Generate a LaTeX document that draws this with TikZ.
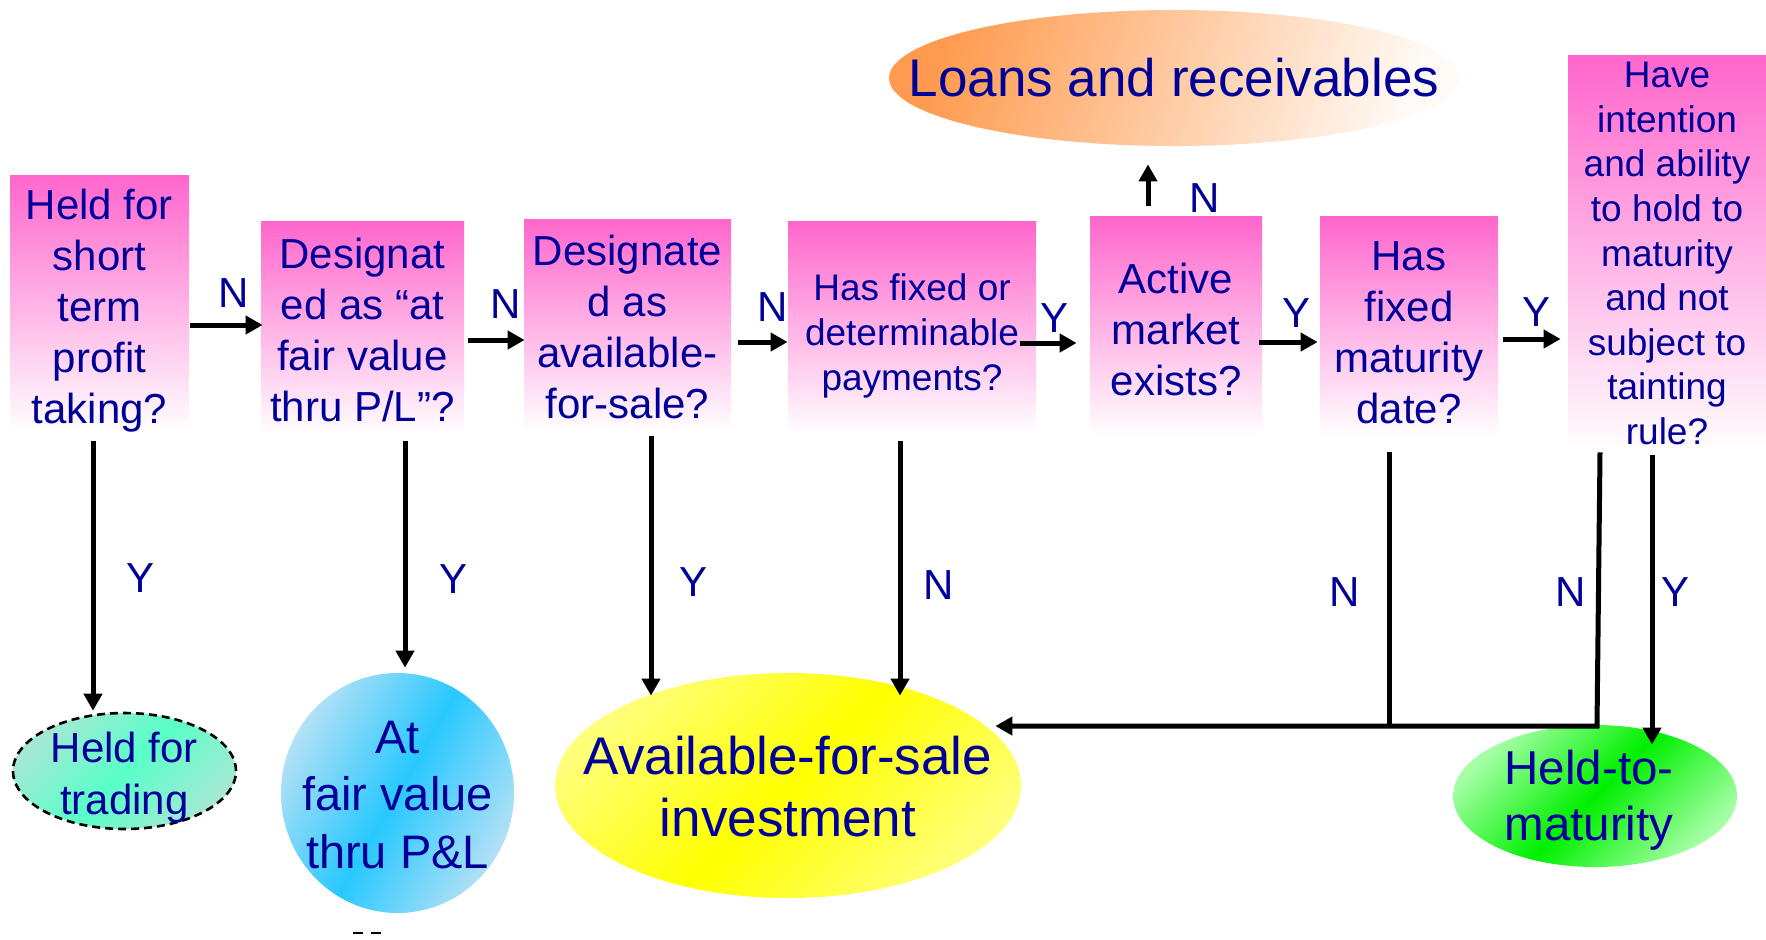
\documentclass[tikz,border=0pt]{standalone}
\usepackage{fontspec}
\setmainfont{Liberation Sans}
\usetikzlibrary{shapes.geometric, arrows.meta, calc}

\definecolor{navy}{RGB}{0,0,153}
\definecolor{pinktop}{RGB}{255,102,204}
\definecolor{loansor}{RGB}{255,155,80}
\definecolor{loanswh}{RGB}{255,250,245}
\definecolor{htfmid}{RGB}{90,255,200}
\definecolor{htfedge}{RGB}{165,232,212}
\definecolor{fvmid}{RGB}{40,200,255}
\definecolor{fvedge}{RGB}{180,225,245}
\definecolor{afsmid}{RGB}{255,255,0}
\definecolor{afsedge}{RGB}{255,255,120}
\definecolor{htmmid}{RGB}{0,240,0}
\definecolor{htmedge}{RGB}{165,255,165}

\tikzset{
  qbox/.style={rectangle, inner sep=0pt, top color=pinktop, bottom color=white},
  qtext/.style={inner sep=0pt, align=center, text=navy,
    font=\fontsize{21pt}{25.5pt}\selectfont},
  qtextsmall/.style={qtext, font=\fontsize{18.5pt}{22.3pt}\selectfont},
  outcome/.style={ellipse, inner sep=0pt, draw=none},
  otext/.style={inner sep=0pt, align=center, text=navy},
  lbl/.style={inner sep=0pt, text=navy, font=\fontsize{21pt}{25pt}\selectfont},
  flow/.style={line width=2.5pt, -{Triangle[length=8.5pt,width=9pt]}},
  flowplain/.style={line width=2.5pt},
}

\begin{document}
\begin{tikzpicture}[x=0.5pt, y=-0.5pt]
\useasboundingbox (0,0) rectangle (1766,939);

% decision boxes (shaded panels, text set on top)
\node[qbox, minimum width=89.5pt, minimum height=128.5pt] (b1) at (99.5,303.5) {};
\node[qtext] (b1-t) at ($(b1.center)+(0,7)$) {Held for\\short\\term\\profit\\taking?};

\node[qbox, minimum width=101.5pt, minimum height=107pt] (b2) at (362.5,328) {};
\node[qtext] (b2-t) at ($(b2.center)+(0,2)$) {Designat\\ed as “at\\fair value\\thru P/L”?};

\node[qbox, minimum width=103.5pt, minimum height=106.5pt] (b3) at (627.5,325.5) {};
\node[qtext] (b3-t) at ($(b3.center)+(0,1)$) {Designate\\d as\\available-\\for-sale?};

\node[qbox, minimum width=124pt, minimum height=107pt] (b4) at (912,328) {};
\node[qtextsmall] (b4-t) at ($(b4.center)+(0,8)$) {Has fixed or\\determinable\\payments?};

\node[qbox, minimum width=86pt, minimum height=110pt] (b5) at (1176,326) {};
\node[qtext] (b5-t) at ($(b5.center)+(0,3)$) {Active\\market\\exists?};

\node[qbox, minimum width=89pt, minimum height=110pt] (b6) at (1409,326) {};
\node[qtext] (b6-t) at ($(b6.center)+(0,7)$) {Has\\fixed\\maturity\\date?};

\node[qbox, minimum width=99pt, minimum height=198.5pt] (b7) at (1667,253.5) {};
\node[qtextsmall] (b7-t) at (b7.center)
  {Have\\intention\\and ability\\to hold to\\maturity\\and not\\subject to\\tainting\\rule?};

% outcomes
\node[outcome, minimum width=285pt, minimum height=68pt,
  top color=loansor, bottom color=loanswh, shading angle=70] (loans) at (1174,78) {};
\node[otext, font=\fontsize{26.5pt}{31pt}\selectfont] (loans-t) at (loans.center)
  {Loans and receivables};

\node[outcome, minimum width=111.5pt, minimum height=58pt,
  top color=htfedge, bottom color=htfedge, middle color=htfmid, shading angle=45,
  draw=black, line width=1.3pt, dash pattern=on 4pt off 2.5pt] (htf) at (124.5,771) {};
\node[otext, font=\fontsize{21pt}{26pt}\selectfont] (htf-t) at ($(htf.center)+(0,7)$)
  {Held for\\trading};

\node[outcome, minimum width=116.5pt, minimum height=120pt,
  top color=fvedge, bottom color=fvedge, middle color=fvmid, shading angle=60] (fvpl) at (397.5,793) {};
\node[otext, font=\fontsize{23.5pt}{28.75pt}\selectfont] (fvpl-t) at ($(fvpl.center)+(0,2)$)
  {At\\fair value\\thru P\&L};

\node[outcome, minimum width=233pt, minimum height=112.5pt,
  top color=afsedge, bottom color=afsedge, middle color=afsmid, shading angle=45] (afs) at (788,785.5) {};
\node[otext, font=\fontsize{26.5pt}{31pt}\selectfont] (afs-t) at ($(afs.center)+(0,1)$)
  {Available-for-sale\\investment};

\node[outcome, minimum width=142pt, minimum height=71pt,
  top color=htmedge, bottom color=htmedge, middle color=htmmid, shading angle=45] (htm) at (1595,796) {};
\node[otext, font=\fontsize{23.75pt}{28pt}\selectfont] (htm-t) at ($(htm.center)+(-6,4)$)
  {Held-to-\\maturity};

% junction points on the bottom return line
\coordinate (join6) at (1389,726);
\coordinate (corner7) at (1597,726);

% horizontal flow
\draw[flow] ($(b1.east)+(1,21.5)$) -- ($(b2.west)+(2,-3)$);
\draw[flow] ($(b2.east)+(4,12)$) -- ($(b3.west)+(1,14.5)$);
\draw[flow] ($(b3.east)+(7,16.5)$) -- ($(b4.west)+(0,14)$);
\draw[flow] ($(b4.east)+(-16,15)$) -- ($(b5.west)+(-13,17)$);
\draw[flow] ($(b5.east)+(-3,16)$) -- ($(b6.west)+(-2,16)$);
\draw[flow] ($(b6.east)+(5,13)$) -- ($(b7.west)+(-7,85.5)$);
\draw[flow] ($(b5.north)+(-28,-10)$) -- ($(loans.south)+(-26,18)$);

% downward flow
\draw[flow] ($(b1.south)+(-6.5,9)$) -- ($(htf.north)+(-31.5,-1)$);
\draw[flow] ($(b2.south)+(42.5,6)$) -- ($(fvpl.north)+(7.5,-5)$);
\draw[flow] ($(b3.south)+(23.5,4)$) -- ($(afs.north)+(-137,23)$);
\draw[flow] ($(b4.south)+(-12,6)$) -- ($(afs.north)+(112,23)$);
\draw[flowplain] ($(b6.south)+(-20,16)$) -- (join6);
\draw[flow] ($(b7.south)+(-67,0)$) -- (corner7) -- ($(afs.east)+(-26,-59.5)$);
\draw[flow] ($(b7.south)+(-15,3)$) -- ($(htm.north)+(57,20)$);

% branch labels
\node[lbl] (l12) at (234,293) {N};
\node[lbl] (l23) at (506,304) {N};
\node[lbl] (l34) at (773,307) {N};
\node[lbl] (l45) at (1054,318) {Y};
\node[lbl] (l56) at (1296,313) {Y};
\node[lbl] (l67) at (1536,312) {Y};
\node[lbl] (l5up) at (1205,198) {N};
\node[lbl] (ld1) at (141,578) {Y};
\node[lbl] (ld2) at (454,579) {Y};
\node[lbl] (ld3) at (693,582) {Y};
\node[lbl] (ld4) at (939,585) {N};
\node[lbl] (ld6) at (1345,592) {N};
\node[lbl] (ld7n) at (1571,592) {N};
\node[lbl] (ld7y) at (1675,592) {Y};

% small dash marks below the fair value outcome
\draw[line width=1.3pt, dash pattern=on 5pt off 4pt] (353,933) -- (383,933);

\end{tikzpicture}
\end{document}
